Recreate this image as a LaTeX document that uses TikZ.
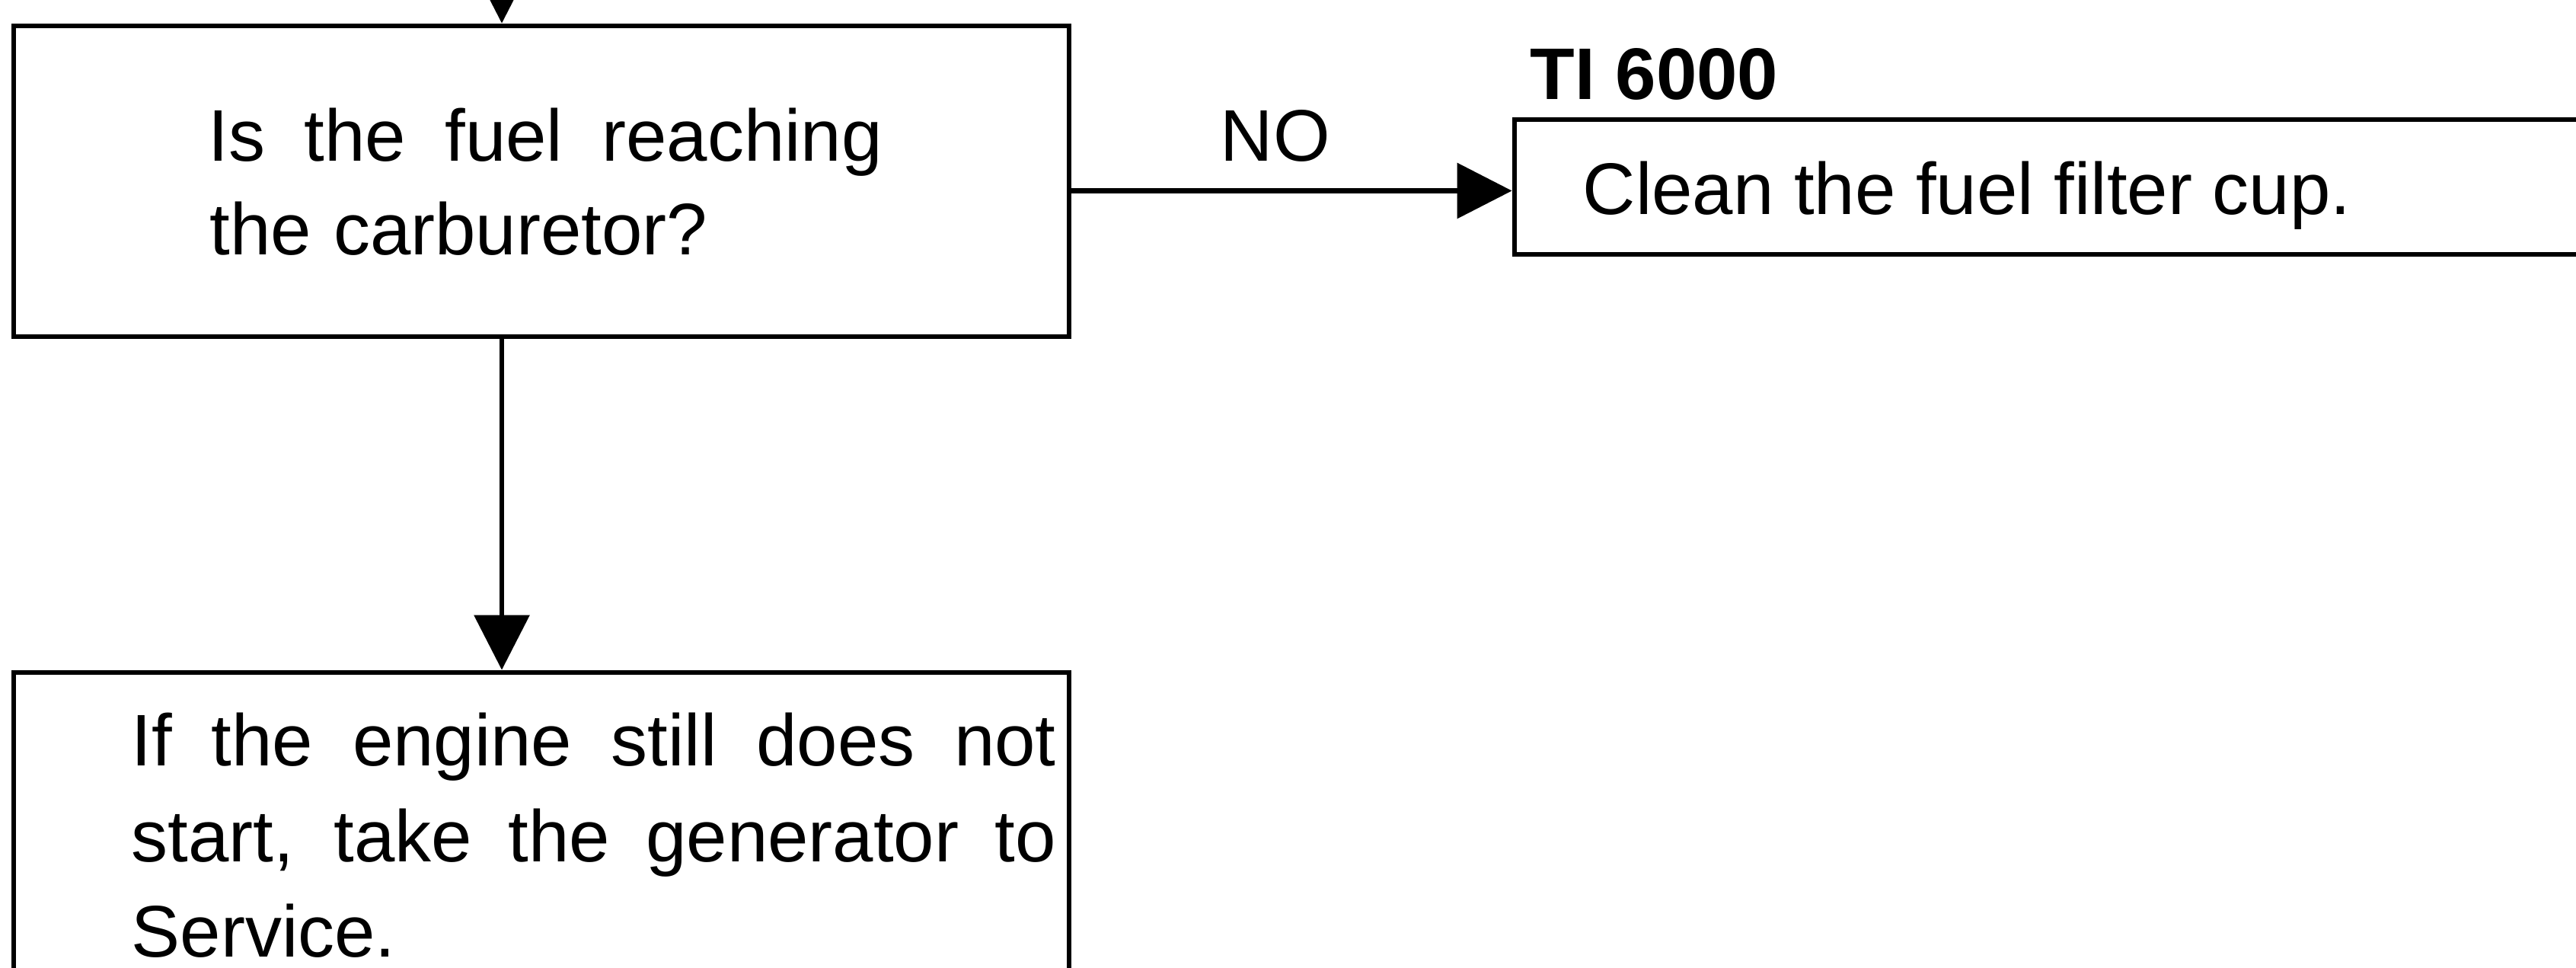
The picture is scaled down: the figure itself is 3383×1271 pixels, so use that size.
\documentclass[tikz,border=0pt]{standalone}
\usepackage{fontspec}
\setmainfont{Liberation Sans}
\usetikzlibrary{arrows.meta,calc}
\tikzset{
  box/.style={draw=black, line width=1.7pt, rectangle, inner sep=0pt},
  arr/.style={draw=black, line width=1.6pt, -{Triangle[length=18pt,width=18pt]}},
  txt/.style={anchor=base west, inner sep=0pt, font=\fontsize{24}{28}\selectfont},
}
\begin{document}
\begin{tikzpicture}[x=0.25pt,y=-0.25pt]
\useasboundingbox (0,0) rectangle (3383,1271);
\clip (0,0) rectangle (3383,1271);
% boxes
\node[box, minimum width=346.5pt, minimum height=102pt] (b1) at (711,238) {};
\node[box, minimum width=365.25pt, minimum height=44.25pt] (b2) at (2719.5,245.5) {};
\node[box, minimum width=346.5pt, minimum height=129.25pt] (b3) at (711,1141.5) {};
% texts
\node[txt] (t1a) at (273,212) {\makebox[221.25pt][s]{Is the fuel reaching}};
\node[txt] (t1b) at (275,335) {the\hspace{0.3em}carburetor?};
\node[txt] (no) at (1602,212) {NO};
\node[txt, font=\fontsize{24}{28}\selectfont\bfseries] (ti) at (2009,131) {TI 6000};
\node[txt] (t2) at (2078,282) {Clean the fuel filter cup.};
\node[txt] (t3a) at (172,1005) {\makebox[303.5pt][s]{If the engine still does not}};
\node[txt] (t3b) at (172,1131) {\makebox[303.5pt][s]{start, take the generator to}};
\node[txt] (t3c) at (172,1256) {Service.};
% connectors
\coordinate (topin) at (659,-60);
\draw[arr] (topin) -- (topin |- b1.north);
\draw[arr] (topin |- b1.south) -- (topin |- b3.north);
\draw[arr] ($(b1.east |- b2.west)+(0,5)$) -- ($(b2.west)+(0,5)$);
\end{tikzpicture}
\end{document}
